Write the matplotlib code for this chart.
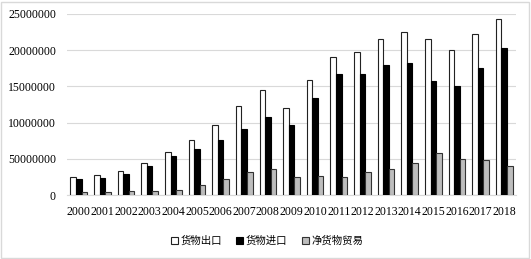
import matplotlib
matplotlib.use("Agg")
import matplotlib.pyplot as plt
import numpy as np
from matplotlib.patches import Patch

years = [str(y) for y in range(2000, 2019)]
exports = [2.53e6, 2.72e6, 3.27e6, 4.42e6, 5.98e6, 7.64e6, 9.71e6, 12.25e6, 14.46e6, 12.06e6,
           15.88e6, 19.06e6, 19.8e6, 21.55e6, 22.5e6, 21.5e6, 19.98e6, 22.24e6, 24.27e6]
imports = [2.2e6, 2.35e6, 2.9e6, 4.0e6, 5.43e6, 6.35e6, 7.6e6, 9.1e6, 10.8e6, 9.62e6,
           13.35e6, 16.67e6, 16.71e6, 17.96e6, 18.19e6, 15.75e6, 15.1e6, 17.5e6, 20.3e6]
net = [0.37e6, 0.37e6, 0.5e6, 0.5e6, 0.65e6, 1.42e6, 2.2e6, 3.18e6, 3.63e6, 2.53e6,
       2.58e6, 2.44e6, 3.13e6, 3.63e6, 4.37e6, 5.8e6, 4.93e6, 4.83e6, 4.0e6]
series_names = ["货物出口", "货物进口", "净货物贸易"]
yticks = [0, 5000000, 10000000, 15000000, 20000000, 25000000]
ytick_labels = ["0", "50000000", "10000000", "15000000", "20000000", "25000000"]

fig = plt.figure(figsize=(5.31, 2.59), dpi=100)
fig.patches.append(plt.Rectangle((0.002, 0.004), 0.995, 0.99, transform=fig.transFigure,
                                 fill=False, edgecolor="#d9d9d9", linewidth=1))
ax = fig.add_axes([67/531, 1 - 195/259, (516-67)/531, (195-14)/259])

x = np.arange(len(years))
w = 0.235
ax.bar(x - w, exports, w, color="white", edgecolor="#222222", linewidth=0.8, zorder=3)
ax.bar(x, imports, w, color="black", edgecolor="black", linewidth=0.8, zorder=3)
ax.bar(x + w, net, w, color="#bdbdbd", edgecolor="#333333", linewidth=0.8, zorder=3)

ax.set_ylim(0, 25000000)
ax.set_xlim(-0.5, len(years) - 0.5)
ax.set_yticks(yticks)
ax.set_yticklabels(ytick_labels, fontfamily="Liberation Serif", fontsize=8.5)
ax.set_xticks(x)
ax.set_xticklabels(years, fontfamily="Liberation Serif", fontsize=8.5)
ax.tick_params(length=0)
ax.tick_params(axis="x", pad=8)
ax.tick_params(axis="y", pad=8)
ax.yaxis.grid(True, color="#d9d9d9", linewidth=0.8, zorder=0)
for s in ["top", "right", "left"]:
    ax.spines[s].set_visible(False)
ax.spines["bottom"].set_color("#d9d9d9")

handles = [Patch(facecolor="white", edgecolor="#222222", linewidth=0.8),
           Patch(facecolor="black", edgecolor="black", linewidth=0.8),
           Patch(facecolor="#bdbdbd", edgecolor="#333333", linewidth=0.8)]
fig.legend(handles, series_names, loc="center", bbox_to_anchor=(267/531, 1 - 241/259),
           ncol=3, frameon=False, handlelength=0.65, handleheight=0.65, handletextpad=0.25,
           columnspacing=1.4, prop={"family": ["Noto Sans CJK SC", "DejaVu Sans"], "size": 7.5})

fig.savefig("out.png", dpi=100)
